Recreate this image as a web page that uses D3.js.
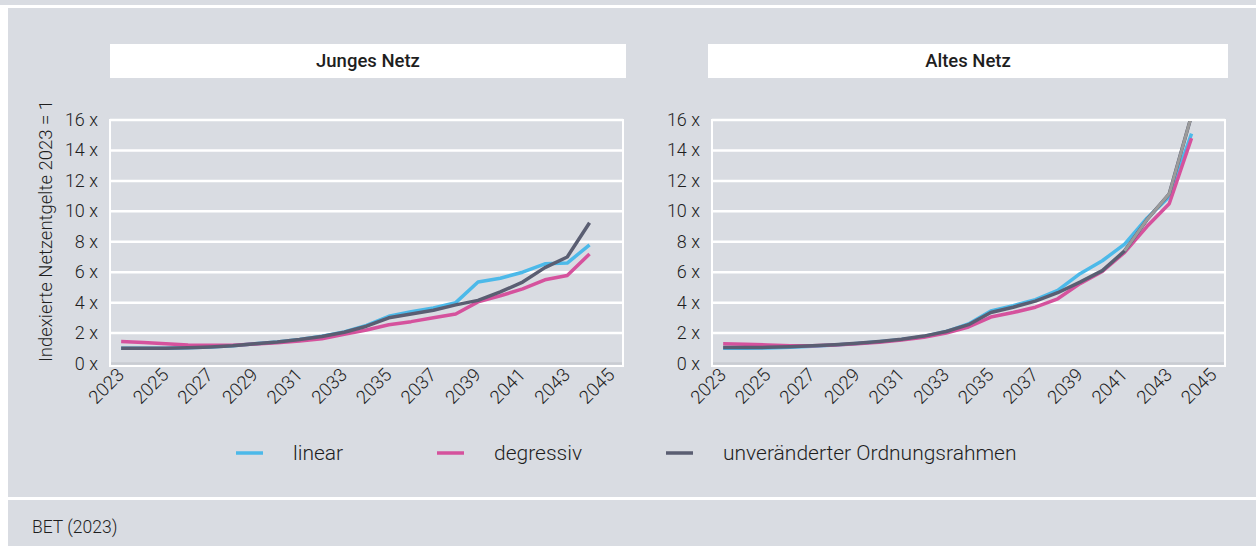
<!DOCTYPE html>
<html>
<head>
<meta charset="utf-8">
<script src="https://cdn.jsdelivr.net/npm/d3@7"></script>
<style>
  body { margin: 0; background: #fff; }
  svg { display: block; font-family: Roboto, "DejaVu Sans", sans-serif; }
</style>
</head>
<body>
<div class="chart"></div>
<script>
// years on the x axis and the ones with labels
const years = d3.range(2023, 2046)
const tickYears = years.filter(y => y % 2 === 1)
const dataYears = d3.range(2023, 2045)
const yTicks = [0, 2, 4, 6, 8, 10, 12, 14, 16]

// Junges Netz
const jungLinear = [1.0, 1.0, 1.0, 1.03, 1.08, 1.16, 1.3, 1.42, 1.58, 1.8, 2.08, 2.5, 3.1, 3.4, 3.65, 4.0, 5.35, 5.6, 6.0, 6.55, 6.6, 7.8]
const jungDegressiv = [1.45, 1.38, 1.3, 1.22, 1.2, 1.2, 1.28, 1.36, 1.48, 1.63, 1.92, 2.2, 2.55, 2.75, 3.0, 3.25, 4.05, 4.45, 4.9, 5.5, 5.78, 7.2]
const jungOrdnung = [1.0, 1.0, 1.0, 1.03, 1.08, 1.16, 1.3, 1.42, 1.58, 1.78, 2.05, 2.45, 3.0, 3.25, 3.5, 3.85, 4.15, 4.7, 5.35, 6.3, 7.0, 9.25]

// Altes Netz
const altLinear = [1.0, 1.0, 1.02, 1.07, 1.13, 1.21, 1.31, 1.43, 1.58, 1.78, 2.1, 2.6, 3.45, 3.8, 4.2, 4.8, 5.9, 6.75, 7.85, 9.55, 10.95, 15.1]
const altDegressiv = [1.3, 1.27, 1.22, 1.17, 1.17, 1.22, 1.3, 1.4, 1.55, 1.72, 2.0, 2.4, 3.05, 3.35, 3.7, 4.25, 5.25, 6.05, 7.3, 9.0, 10.5, 14.8]
const altOrdnung = [1.05, 1.05, 1.06, 1.1, 1.16, 1.24, 1.33, 1.45, 1.6, 1.8, 2.1, 2.55, 3.35, 3.7, 4.1, 4.65, 5.35, 6.1, 7.4, 9.45, 11.15, 16.3]

const seriesNames = ['linear', 'degressiv', 'unveränderter Ordnungsrahmen']
const colors = ['#4cb9e9', '#d5529d', '#5a5e72']

const width = 1256
const height = 546
const bg = '#d9dce2'
const ink = '#1e1e1e'

const svg = d3.select('.chart')
    .append('svg')
    .attr('width', width)
    .attr('height', height)

// background and white separator lines
svg.append('rect').attr('width', width).attr('height', height).attr('fill', bg)
svg.append('rect').attr('x', 0).attr('y', 5).attr('width', width).attr('height', 3).attr('fill', '#fff')
svg.append('rect').attr('x', 0).attr('y', 8).attr('width', 8).attr('height', height).attr('fill', '#fff')
svg.append('rect').attr('x', 8).attr('y', 497).attr('width', width).attr('height', 3).attr('fill', '#fff')

const drawPanel = (opts) => {
    const { title, left, right, series, yTitle, id, barLeft } = opts
    const top = 120
    const bottom = 363.5

    const x = d3.scaleBand().domain(years).range([left, right])
    const y = d3.scaleLinear().domain([0, 16]).range([bottom, top])

    const g = svg.append('g')

    // title bar
    g.append('rect')
        .attr('x', barLeft)
        .attr('y', 44)
        .attr('width', right + 3 - barLeft)
        .attr('height', 34)
        .attr('fill', '#fff')
    g.append('text')
        .attr('x', (barLeft + right + 3) / 2)
        .attr('y', 67)
        .attr('text-anchor', 'middle')
        .attr('font-size', 18.5)
        .attr('font-weight', 500)
        .attr('fill', ink)
        .text(title)

    // gridlines
    g.selectAll('.grid')
        .data(yTicks)
        .join('line')
        .attr('x1', left)
        .attr('x2', right)
        .attr('y1', d => y(d))
        .attr('y2', d => y(d))
        .attr('stroke', d => d === 0 ? '#c9ccd2' : '#fff')
        .attr('stroke-width', 2.5)

    // plot frame
    g.append('rect')
        .attr('x', left)
        .attr('y', top)
        .attr('width', right - left)
        .attr('height', 366 - top)
        .attr('fill', 'none')
        .attr('stroke', '#fff')
        .attr('stroke-width', 2)

    // y tick labels
    g.selectAll('.ylab')
        .data(yTicks)
        .join('text')
        .attr('x', left - 12)
        .attr('y', d => y(d) + 6)
        .attr('text-anchor', 'end')
        .attr('font-size', 18)
        .attr('font-weight', 300)
        .attr('fill', ink)
        .text(d => `${d} x`)

    // x tick labels, rotated
    g.selectAll('.xlab')
        .data(tickYears)
        .join('text')
        .attr('transform', d => `translate(${x(d) + x.bandwidth() / 2 + 4}, 376) rotate(-45)`)
        .attr('text-anchor', 'end')
        .attr('font-size', 18.5)
        .attr('font-weight', 300)
        .attr('fill', ink)
        .text(d => d)

    if (yTitle) {
        g.append('text')
            .attr('transform', `translate(52, 231) rotate(-90)`)
            .attr('text-anchor', 'middle')
            .attr('font-size', 18.5)
            .attr('font-weight', 300)
            .attr('fill', ink)
            .text(yTitle)
    }

    // clip lines to plot area
    svg.append('clipPath').attr('id', id)
        .append('rect')
        .attr('x', left).attr('y', top + 1)
        .attr('width', right - left).attr('height', bottom - top + 10)

    const line = d3.line()
        .x(d => x(d.year) + x.bandwidth() / 2)
        .y(d => y(d.value))

    const lines = g.append('g').attr('clip-path', `url(#${id})`)
    series.forEach((values, i) => {
        const pts = dataYears.map((year, j) => ({ year, value: values[j] }))
        lines.append('path')
            .datum(pts)
            .attr('d', line)
            .attr('fill', 'none')
            .attr('stroke', colors[i])
            .attr('stroke-width', 3.5)
            .attr('stroke-linejoin', 'round')
    })

    // in the Altes Netz panel the last years of the Ordnungsrahmen line are light grey
    if (opts.greyTail) {
        const vals = series[2]
        const pts = dataYears.map((year, j) => ({ year, value: vals[j] })).filter(d => d.year >= 2041)
        lines.append('path')
            .datum(pts)
            .attr('d', line)
            .attr('fill', 'none')
            .attr('stroke', '#9b9b9b')
            .attr('stroke-width', 3)
    }
}

drawPanel({
    id: 'clipJung',
    title: 'Junges Netz',
    left: 110,
    right: 623,
    barLeft: 110,
    series: [jungLinear, jungDegressiv, jungOrdnung],
    yTitle: 'Indexierte Netzentgelte 2023 = 1'
})

drawPanel({
    id: 'clipAlt',
    title: 'Altes Netz',
    left: 712,
    right: 1225,
    barLeft: 708,
    series: [altLinear, altDegressiv, altOrdnung],
    greyTail: true
})

// legend
const legendX = [236, 437, 666]
const legend = svg.append('g')
seriesNames.forEach((name, i) => {
    legend.append('line')
        .attr('x1', legendX[i]).attr('x2', legendX[i] + 27)
        .attr('y1', 453).attr('y2', 453)
        .attr('stroke', colors[i])
        .attr('stroke-width', 3.5)
    legend.append('text')
        .attr('x', legendX[i] + 57)
        .attr('y', 460)
        .attr('font-size', 21)
        .attr('font-weight', 300)
        .attr('fill', ink)
        .text(name)
})

// source
svg.append('text')
    .attr('x', 32)
    .attr('y', 533)
    .attr('font-size', 17.5)
    .attr('font-weight', 300)
    .attr('fill', ink)
    .text('BET (2023)')
</script>
</body>
</html>
